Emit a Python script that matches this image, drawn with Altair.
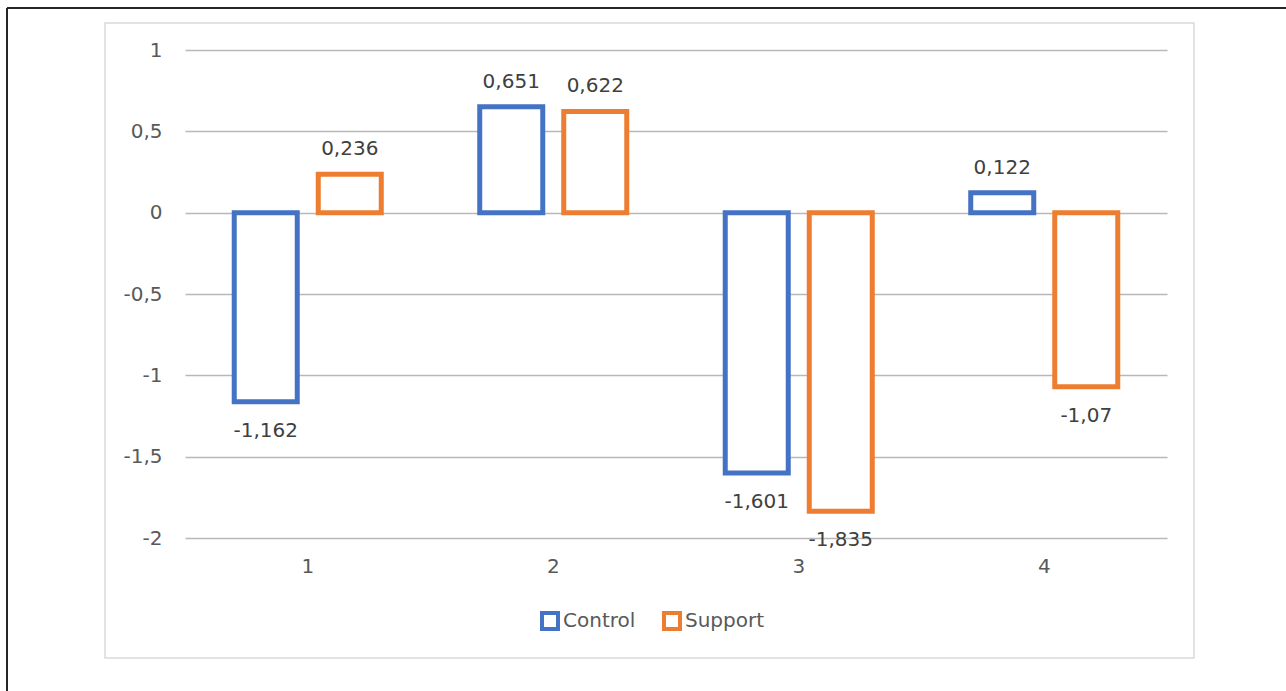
import altair as alt
import pandas as pd

categories = ["1", "2", "3", "4"]
control = [-1.162, 0.651, -1.601, 0.122]
support = [0.236, 0.622, -1.835, -1.07]
groups = ["Control", "Support"]
colors = ["#4472c4", "#ed7d31"]
y_ticks = [-2, -1.5, -1, -0.5, 0, 0.5, 1]

rows = []
for c, a, b in zip(categories, control, support):
    rows.append({"cat": c, "group": "Control", "value": a})
    rows.append({"cat": c, "group": "Support", "value": b})
df = pd.DataFrame(rows)
df["label"] = df["value"].map(lambda v: ("%g" % v).replace(".", ","))

FONT = "DejaVu Sans"

x_enc = alt.X("cat:N", sort=categories,
              scale=alt.Scale(paddingInner=0, paddingOuter=0),
              axis=alt.Axis(title=None, labelAngle=0, domain=False, ticks=False,
                            grid=False, labelFontSize=20, labelFont=FONT,
                            labelColor="#595959", labelPadding=18))
xo_enc = alt.XOffset("group:N", sort=groups,
                     scale=alt.Scale(paddingInner=0.25, paddingOuter=0.586))
y_enc = alt.Y("value:Q", scale=alt.Scale(domain=[-2, 1], nice=False),
              axis=alt.Axis(title=None, values=y_ticks, domain=False, ticks=False,
                            grid=True, gridColor="#b8b8b8", gridWidth=1.5,
                            labelFontSize=20, labelFont=FONT, labelColor="#595959",
                            labelPadding=23,
                            labelExpr="replace(toString(datum.value), '.', ',')"))

base = alt.Chart(df)

bars = base.mark_bar(fill="white", strokeWidth=5, strokeJoin="miter").encode(
    x=x_enc, xOffset=xo_enc, y=y_enc,
    stroke=alt.Stroke("group:N", sort=groups,
                      scale=alt.Scale(domain=groups, range=colors),
                      legend=alt.Legend(title=None, orient="none", direction="horizontal",
                                        legendX=355, legendY=561,
                                        symbolType="square", symbolSize=256,
                                        symbolStrokeWidth=4, symbolFillColor="white",
                                        labelFontSize=20, labelFont=FONT,
                                        labelColor="#595959", labelOffset=3,
                                        columnPadding=20, padding=0)),
)

pos_text = base.transform_filter("datum.value >= 0").mark_text(
    dy=-25, fontSize=20, font=FONT, color="#404040").encode(
    x=x_enc, xOffset=xo_enc, y=y_enc, text="label:N")

neg_text = base.transform_filter("datum.value < 0").mark_text(
    dy=29, fontSize=20, font=FONT, color="#404040").encode(
    x=x_enc, xOffset=xo_enc, y=y_enc, text="label:N")

one = alt.Data(values=[{"a": 1}])

inner_box = alt.Chart(one).mark_rect(fillOpacity=0, stroke="#d9d9d9", strokeWidth=1.5).encode(
    x=alt.value(-80), x2=alt.value(1009), y=alt.value(-27), y2=alt.value(608))

outer_left = alt.Chart(one).mark_rule(color="#262626", strokeWidth=2).encode(
    x=alt.value(-178), y=alt.value(-42), y2=alt.value(641))
outer_top = alt.Chart(one).mark_rule(color="#262626", strokeWidth=2).encode(
    x=alt.value(-178), x2=alt.value(1101), y=alt.value(-42))

chart = alt.layer(inner_box, outer_left, outer_top, bars, pos_text, neg_text).properties(
    width=982, height=488,
    autosize=alt.AutoSizeParams(type="none"),
    padding={"left": 185, "top": 50, "right": 119, "bottom": 153},
    background="white",
).configure_view(stroke=None)

chart.save("out.html", embed_options={"renderer": "svg", "actions": False})
